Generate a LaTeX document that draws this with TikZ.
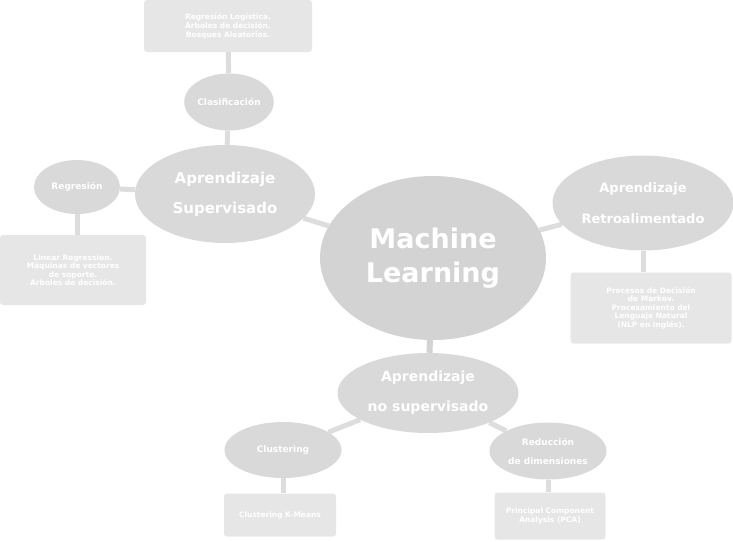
\documentclass[tikz,border=0pt]{standalone}
\usepackage{fontspec}
\setmainfont{DejaVu Sans}
\usetikzlibrary{shapes.geometric}
\pgfdeclarelayer{bg}\pgfsetlayers{bg,main}
\begin{document}
\begin{tikzpicture}[x=1pt,y=-1pt,
  el/.style={ellipse,fill=ellc,text=white,font=\bfseries,align=center,inner sep=0pt},
  bx/.style={rectangle,rounded corners=3pt,fill=boxc,text=white,font=\bfseries\fontsize{7.5}{8.5}\selectfont,align=center,inner sep=0pt},
  ln/.style={line width=5pt,draw=linec}]
\definecolor{ellc}{HTML}{D9D9D9}
\definecolor{mainc}{HTML}{D3D3D3}
\definecolor{boxc}{HTML}{E6E6E6}
\definecolor{linec}{HTML}{DDDDDD}
\useasboundingbox (0,0) rectangle (733,541);
% nodes
\node[el,fill=mainc,minimum width=226pt,minimum height=164pt,font=\bfseries\fontsize{27}{34}\selectfont] (ml) at (433,258) {Machine\\Learning};
\node[el,minimum width=180pt,minimum height=98pt,font=\bfseries\fontsize{15}{30}\selectfont] (sup) at (225,194) {Aprendizaje\\Supervisado};
\node[el,minimum width=82pt,minimum height=57pt,font=\bfseries\fontsize{9}{11}\selectfont] (cla) at (229,102) {Clasificación};
\node[el,minimum width=86pt,minimum height=54pt,font=\bfseries\fontsize{9}{11}\selectfont] (reg) at (77,187) {Regresión};
\node[el,minimum width=181pt,minimum height=95pt,font=\bfseries\fontsize{13}{31}\selectfont] (ret) at (643,203) {Aprendizaje\\Retroalimentado};
\node[el,minimum width=181pt,minimum height=80pt,font=\bfseries\fontsize{14}{30}\selectfont] (nos) at (428,393) {Aprendizaje\\no supervisado};
\node[el,minimum width=117pt,minimum height=56pt,font=\bfseries\fontsize{9}{11}\selectfont] (clu) at (283,450) {Clustering};
\node[el,minimum width=117pt,minimum height=57pt,font=\bfseries\fontsize{9}{19}\selectfont] (red) at (548,451) {Reducción\\de dimensiones};
\node[bx,minimum width=168pt,minimum height=52pt] (b1) at (228,26) {Regresión Logística.\\Árboles de decisión.\\Bosques Aleatorios.};
\node[bx,minimum width=146pt,minimum height=70pt] (b2) at (73,270) {Linear Regression.\\Máquinas de vectores\\de soporte.\\Arboles de decisión.};
\node[bx,minimum width=161pt,minimum height=71pt] (b3) at (651,308) {Procesos de Decisión\\de Markov.\\Procesamiento del\\Lenguaje Natural\\ (NLP en inglés).};
\node[bx,minimum width=112pt,minimum height=43pt] (b4) at (280,515) {Clustering K-Means};
\node[bx,minimum width=111pt,minimum height=47pt] (b5) at (550,516) {Principal Component\\Analysis (PCA)};
% connectors
\begin{pgfonlayer}{bg}
\draw[ln] (ml) -- (sup);
\draw[ln] (ml) -- (ret);
\draw[ln,draw=mainc,line width=6pt] (ml) -- (nos);
\draw[ln] (sup) -- (cla);
\draw[ln] (cla) -- (b1);
\draw[ln] (sup) -- (reg);
\draw[ln] (reg) -- (reg|-b2.north);
\draw[ln] (ret) -- (ret|-b3.north);
\draw[ln] (nos) -- (clu);
\draw[ln] (nos) -- (red);
\draw[ln] (clu) -- (clu|-b4.north);
\draw[ln] (red) -- (red|-b5.north);
\end{pgfonlayer}
\end{tikzpicture}
\end{document}
